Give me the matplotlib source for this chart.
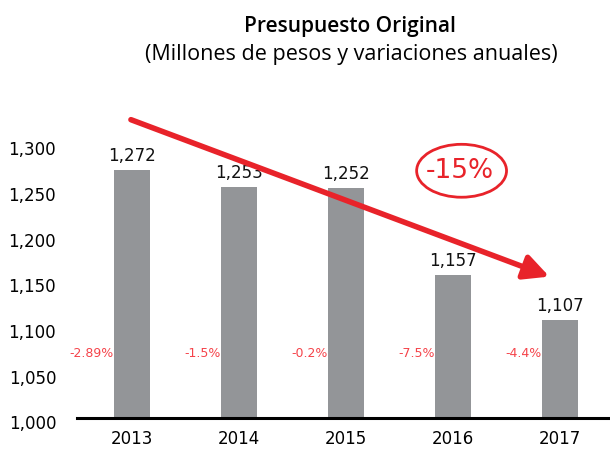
import numpy as np
import matplotlib.pyplot as plt
from matplotlib.patches import Ellipse
from matplotlib.transforms import ScaledTranslation

years = ["2013", "2014", "2015", "2016", "2017"]
budget = [1272, 1253, 1252, 1157, 1107]
value_labels = ["1,272", "1,253", "1,252", "1,157", "1,107"]
changes = ["-2.89%", "-1.5%", "-0.2%", "-7.5%", "-4.4%"]
yticks = [1000, 1050, 1100, 1150, 1200, 1250, 1300]
ytick_labels = ["1,000", "1,050", "1,100", "1,150", "1,200", "1,250", "1,300"]

bar_color = "#939598"
red = "#e8232a"
pct_red = "#f5434a"

fig = plt.figure(figsize=(6.1, 4.49), dpi=100)
ax = fig.add_axes([77 / 610, 31 / 449, 533 / 610, 312 / 449])

x = np.arange(len(years))
width = 0.336
bars = ax.bar(x, budget, width=width, color=bar_color, zorder=2)

ax.set_xlim(-0.514, 4.467)
ax.set_ylim(1000, 1342)

# value labels above bars
for xi, v, lab in zip(x, budget, value_labels):
    ax.annotate(lab, (xi, v), xytext=(0, 6.5), textcoords="offset points",
                ha="center", va="baseline", fontsize=12, color="#111111")

# yearly change labels, right-aligned to the bar's left edge
for xi, lab in zip(x, changes):
    ax.text(xi - width / 2, 1071, lab, ha="right", va="center",
            fontsize=9, color=pct_red)

# trend arrow
ax.annotate("", xy=(3.9, 1155), xytext=(-0.01, 1327),
            arrowprops=dict(arrowstyle="-|>,head_length=1.5,head_width=0.75",
                            color=red, lw=4, shrinkA=0, shrinkB=0),
            annotation_clip=False, zorder=5)

ell = Ellipse((3.08, 1271), width=0.84, height=58, fill=False,
              edgecolor=red, lw=2, zorder=5)
ax.add_patch(ell)
ax.text(3.06, 1271, "-15%", ha="center", va="center", fontsize=19,
        color=red, zorder=6)

ax.set_xticks(x)
ax.set_xticklabels(years, fontsize=12)
ax.set_yticks(yticks)
ax.set_yticklabels(ytick_labels, fontsize=12)
ax.tick_params(axis="both", length=0)
ax.tick_params(axis="y", pad=15)
ax.tick_params(axis="x", pad=9)
for lab in ax.get_yticklabels():
    lab.set_transform(lab.get_transform() + ScaledTranslation(0, -3 / 72, fig.dpi_scale_trans))

for side in ["top", "right", "left"]:
    ax.spines[side].set_visible(False)
ax.spines["bottom"].set_linewidth(2.2)
ax.spines["bottom"].set_color("black")
ax.spines["bottom"].set_zorder(3)

fig.text(350 / 610, 1 - 32 / 449, "Presupuesto Original", ha="center", va="baseline",
         fontsize=15, fontweight="semibold", family="Open Sans")
fig.text(351 / 610, 1 - 60 / 449, "(Millones de pesos y variaciones anuales)",
         ha="center", va="baseline", fontsize=15.5, family="Open Sans")

fig.savefig("out.png", dpi=100)
